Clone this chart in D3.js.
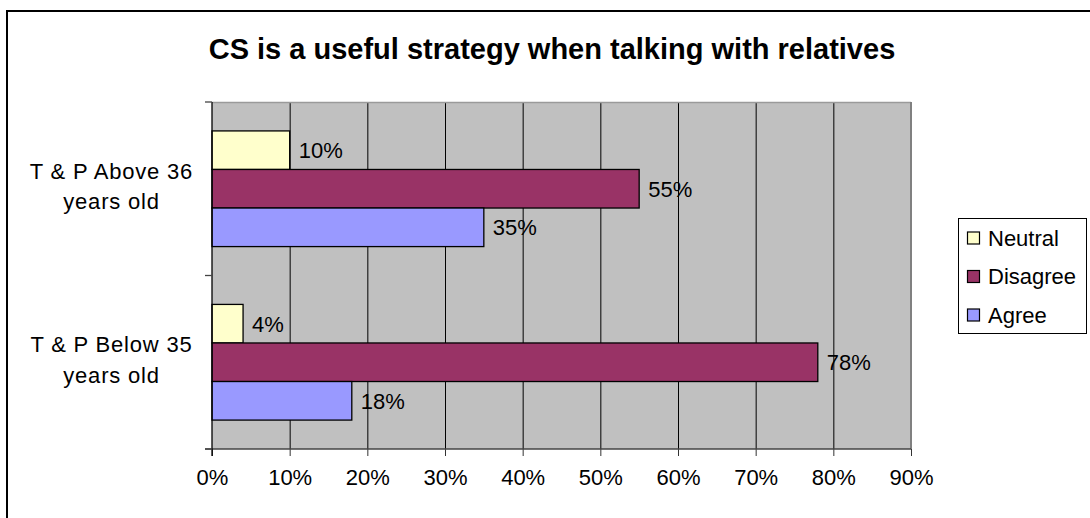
<!DOCTYPE html>
<html>
<head>
<meta charset="utf-8">
<script src="https://cdn.jsdelivr.net/npm/d3@7"></script>
<style>
  html, body { margin: 0; padding: 0; background: #fff; }
  svg { display: block; font-family: "Liberation Sans", Arial, sans-serif; }
</style>
</head>
<body>
<svg id="chart" width="1090" height="518"></svg>
<script>
// Survey responses, share of respondents per group
const categories = ["T & P Above 36 years old", "T & P Below 35 years old"];
const categoryLines = [["T & P Above 36", "years old"], ["T & P Below 35", "years old"]];
const seriesNames = ["Neutral", "Disagree", "Agree"];
const neutralValues = [0.10, 0.04];
const disagreeValues = [0.55, 0.78];
const agreeValues = [0.35, 0.18];
const seriesColors = ["#FFFFCC", "#993366", "#9999FF"];
const xTicks = [0, 0.1, 0.2, 0.3, 0.4, 0.5, 0.6, 0.7, 0.8, 0.9];
const titleText = "CS is a useful strategy when talking with relatives";

const seriesValues = [neutralValues, disagreeValues, agreeValues];

const svg = d3.select("#chart");
const plot = { left: 212, right: 911, top: 102, bottom: 449 };

// outer chart frame (runs past the right and bottom edges)
svg.append("rect")
  .attr("x", 7).attr("y", 11)
  .attr("width", 1200).attr("height", 700)
  .attr("fill", "#fff").attr("stroke", "#000").attr("stroke-width", 2);

svg.append("text")
  .attr("x", 552).attr("y", 59)
  .attr("text-anchor", "middle")
  .attr("font-size", 29).attr("font-weight", "bold")
  .text(titleText);

const x = d3.scaleLinear().domain([0, 0.9]).range([plot.left, plot.right]);
const y = d3.scaleBand().domain(categories)
  .range([plot.top, plot.bottom])
  .paddingInner(1 / 3).paddingOuter(1 / 6);
const ySeries = d3.scaleBand().domain(seriesNames).range([0, y.bandwidth()]);

// plot background
svg.append("rect")
  .attr("x", plot.left).attr("y", plot.top)
  .attr("width", plot.right - plot.left).attr("height", plot.bottom - plot.top)
  .attr("fill", "#C0C0C0");

// vertical gridlines
svg.append("g").selectAll("line")
  .data(xTicks.filter(t => t > 0 && t < 0.9))
  .join("line")
  .attr("x1", d => x(d) + 0.5).attr("x2", d => x(d) + 0.5)
  .attr("y1", plot.top).attr("y2", plot.bottom)
  .attr("stroke", "#000").attr("stroke-width", 1);

// plot border top / right
svg.append("line")
  .attr("x1", plot.left).attr("x2", plot.right)
  .attr("y1", plot.top + 0.5).attr("y2", plot.top + 0.5)
  .attr("stroke", "#9a9a9a").attr("stroke-width", 1.5);
svg.append("line")
  .attr("x1", plot.right).attr("x2", plot.right)
  .attr("y1", plot.top).attr("y2", plot.bottom)
  .attr("stroke", "#808080").attr("stroke-width", 2);

// bars
const groups = svg.append("g").selectAll("g")
  .data(categories)
  .join("g")
  .attr("transform", d => `translate(0,${y(d)})`);

groups.each(function (cat, ci) {
  const g = d3.select(this);
  seriesNames.forEach((s, si) => {
    const v = seriesValues[si][ci];
    g.append("rect")
      .attr("x", x(0))
      .attr("y", ySeries(s))
      .attr("width", x(v) - x(0))
      .attr("height", ySeries.bandwidth())
      .attr("fill", seriesColors[si])
      .attr("stroke", "#000").attr("stroke-width", 1.3);
    g.append("text")
      .attr("x", x(v) + 9)
      .attr("y", ySeries(s) + ySeries.bandwidth() / 2)
      .attr("dy", "0.36em")
      .attr("font-size", 22)
      .text(d3.format(".0%")(v));
  });
});

// x axis
const xAxis = d3.axisBottom(x)
  .tickValues(xTicks)
  .tickFormat(d3.format(".0%"))
  .tickSize(7)
  .tickSizeOuter(0)
  .tickPadding(13);
const gx = svg.append("g")
  .attr("transform", `translate(0,${plot.bottom})`)
  .call(xAxis);
gx.select(".domain").remove();
gx.selectAll(".tick line").attr("stroke", "#333");
gx.selectAll(".tick text")
  .attr("font-size", 22).attr("fill", "#000")
  .attr("font-family", "Liberation Sans, Arial, sans-serif");
svg.append("line")
  .attr("x1", plot.left - 7).attr("x2", plot.right)
  .attr("y1", plot.bottom).attr("y2", plot.bottom)
  .attr("stroke", "#444").attr("stroke-width", 1.5);

// y axis with ticks at category boundaries
svg.append("line")
  .attr("x1", plot.left).attr("x2", plot.left)
  .attr("y1", plot.top).attr("y2", plot.bottom + 7)
  .attr("stroke", "#000").attr("stroke-width", 1.3);
const boundaries = [plot.top, (y(categories[0]) + y.bandwidth() + y(categories[1])) / 2, plot.bottom];
svg.append("g").selectAll("line")
  .data(boundaries)
  .join("line")
  .attr("x1", plot.left - 7).attr("x2", plot.left)
  .attr("y1", d => d).attr("y2", d => d)
  .attr("stroke", "#444").attr("stroke-width", 1.3);

// category labels
categories.forEach((c, i) => {
  const cy = y(c) + y.bandwidth() / 2;
  const t = svg.append("text")
    .attr("text-anchor", "middle")
    .attr("font-size", 22)
    .attr("letter-spacing", 0.8);
  categoryLines[i].forEach((line, li) => {
    t.append("tspan")
      .attr("x", 111.5)
      .attr("y", cy - 10 + li * 30.7)
      .text(line);
  });
});

// legend
const legend = svg.append("g").attr("transform", "translate(958,218)");
legend.append("rect")
  .attr("x", 0.5).attr("y", 0.5)
  .attr("width", 128).attr("height", 115)
  .attr("fill", "#fff").attr("stroke", "#000").attr("stroke-width", 1);
seriesNames.forEach((s, i) => {
  const cy = 20 + i * 38.5;
  legend.append("rect")
    .attr("x", 9.5).attr("y", cy - 6)
    .attr("width", 12).attr("height", 12)
    .attr("fill", seriesColors[i]).attr("stroke", "#000").attr("stroke-width", 1.2);
  legend.append("text")
    .attr("x", 30).attr("y", cy)
    .attr("dy", "0.36em")
    .attr("font-size", 22)
    .text(s);
});
</script>
</body>
</html>
